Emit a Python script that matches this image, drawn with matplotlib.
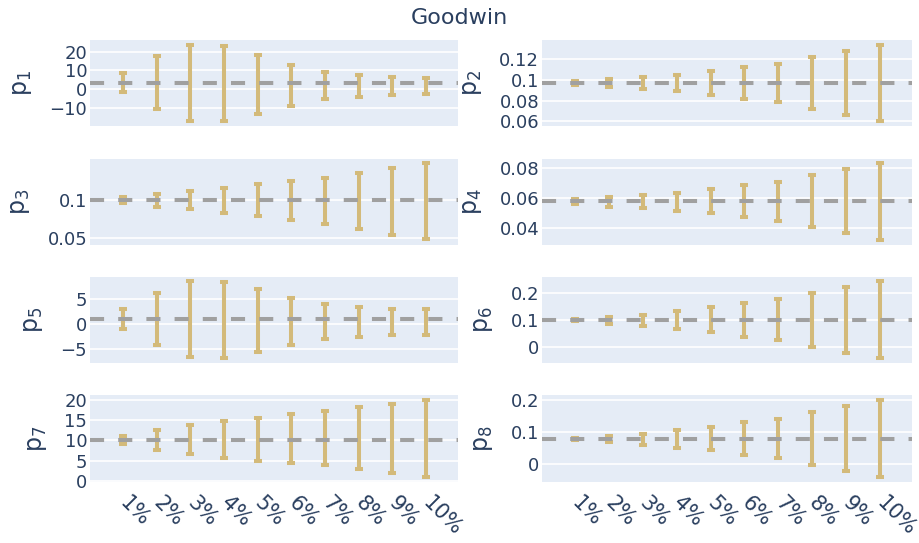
import numpy as np
import matplotlib.pyplot as plt

plt.rcParams['font.family'] = ['DejaVu Sans']
plt.rcParams['mathtext.fontset'] = 'dejavusans'

text_color = '#2a3f5f'
bar_color = '#d3ba7a'
line_color = '#a0a0a0'

# noise levels on the x axis
noise = ['1%', '2%', '3%', '4%', '5%', '6%', '7%', '8%', '9%', '10%']

# true parameter values (dashed lines)
true_vals = [3.4, 0.0974, 0.1, 0.058, 1.0, 0.1, 10.0, 0.077]

# lower / upper ends of the estimate ranges
p1_lo = [-1.6, -10.6, -16.9, -16.9, -13.1, -8.9, -5.3, -3.9, -2.9, -2.5]
p1_hi = [8.5, 17.7, 23.7, 23.0, 18.1, 13.1, 9.2, 7.8, 6.5, 5.9]
p2_lo = [0.0955, 0.0929, 0.091, 0.089, 0.0858, 0.0819, 0.0787, 0.0722, 0.0664, 0.0606]
p2_hi = [0.0993, 0.1006, 0.1026, 0.1051, 0.1084, 0.1123, 0.1155, 0.122, 0.1278, 0.1342]
p3_lo = [0.0956, 0.0912, 0.0877, 0.0833, 0.0789, 0.0737, 0.0684, 0.0614, 0.0543, 0.0482]
p3_hi = [0.1035, 0.1079, 0.1114, 0.1158, 0.121, 0.1254, 0.129, 0.136, 0.1421, 0.1483]
p4_lo = [0.0562, 0.0544, 0.0535, 0.0517, 0.05, 0.0473, 0.0451, 0.0407, 0.0367, 0.0322]
p4_hi = [0.0593, 0.0607, 0.062, 0.0637, 0.066, 0.0691, 0.0709, 0.0753, 0.0793, 0.0833]
p5_lo = [-0.87, -4.2, -6.6, -6.8, -5.54, -4.07, -3.0, -2.47, -2.2, -2.2]
p5_hi = [3.0, 6.2, 8.6, 8.46, 7.0, 5.26, 4.0, 3.4, 3.13, 3.06]
p6_lo = [0.094, 0.084, 0.0767, 0.0667, 0.0544, 0.037, 0.025, -0.0026, -0.0222, -0.042]
p6_hi = [0.1037, 0.109, 0.1185, 0.131, 0.146, 0.161, 0.176, 0.2, 0.222, 0.242]
p7_lo = [9.0, 7.65, 6.5, 5.65, 5.0, 4.3, 3.8, 2.8, 1.8, 0.8]
p7_hi = [11.2, 12.65, 13.8, 14.8, 15.65, 16.65, 17.3, 18.3, 19.15, 20.0]
p8_lo = [0.0731, 0.067, 0.0584, 0.05, 0.042, 0.027, 0.017, -0.004, -0.023, -0.042]
p8_hi = [0.0814, 0.0875, 0.0937, 0.104, 0.115, 0.129, 0.14, 0.163, 0.181, 0.2]

lows = [p1_lo, p2_lo, p3_lo, p4_lo, p5_lo, p6_lo, p7_lo, p8_lo]
highs = [p1_hi, p2_hi, p3_hi, p4_hi, p5_hi, p6_hi, p7_hi, p8_hi]

y_ticks = [[-10, 0, 10, 20], [0.06, 0.08, 0.1, 0.12], [0.05, 0.1], [0.04, 0.06, 0.08],
           [-5, 0, 5], [0, 0.1, 0.2], [0, 5, 10, 15, 20], [0, 0.1, 0.2]]
y_lims = [(-19.5, 26.2), (0.0555, 0.1387), (0.0408, 0.154), (0.0289, 0.0862),
          (-7.74, 9.46), (-0.060, 0.258), (-0.35, 21.3), (-0.057, 0.2147)]

fig = plt.figure(figsize=(9.19, 5.43), dpi=100)

W, H = 919, 543
col_x = [(90, 458), (542, 912)]
row_y = [(40, 126), (159, 245), (277, 363), (395, 482)]

x = np.arange(len(noise))
for i in range(8):
    r, c = i // 2, i % 2
    x0, x1 = col_x[c]
    y0, y1 = row_y[r]
    ax = fig.add_axes([x0 / W, 1 - y1 / H, (x1 - x0) / W, (y1 - y0) / H])
    ax.set_facecolor('#e5ecf6')
    for s in ax.spines.values():
        s.set_visible(False)
    ax.grid(True, axis='y', color='white', linewidth=1.2)
    ax.set_axisbelow(True)

    lo = np.array(lows[i])
    hi = np.array(highs[i])
    mid = (lo + hi) / 2
    ax.errorbar(x, mid, yerr=[mid - lo, hi - mid], fmt='none', ecolor=bar_color,
                elinewidth=2.9, capsize=3, capthick=2.9, zorder=2)
    ax.axhline(true_vals[i], color=line_color, linewidth=2.9, dashes=(3.5, 3.5), zorder=3)

    ax.set_xlim(-0.98, 9.95)
    ax.set_ylim(*y_lims[i])
    ax.set_yticks(y_ticks[i])
    ax.set_yticklabels([('%g' % v).replace('-', '\u2212') for v in y_ticks[i]])
    ax.tick_params(axis='both', length=0, labelsize=13, colors=text_color, pad=2)
    ax.set_ylabel(r'$\mathregular{p_%d}$' % (i + 1), fontsize=17, color=text_color, labelpad=11)
    ax.set_xticks(x)
    if r == 3:
        ax.set_xticklabels(noise, rotation=-45, ha='left', va='center',
                           rotation_mode='anchor', fontsize=15)
        ax.tick_params(axis='x', pad=13)
    else:
        ax.set_xticklabels([])

fig.suptitle('Goodwin', y=1 - 18 / H, va='center', fontsize=16, color=text_color)

plt.savefig('out.png', dpi=100)
